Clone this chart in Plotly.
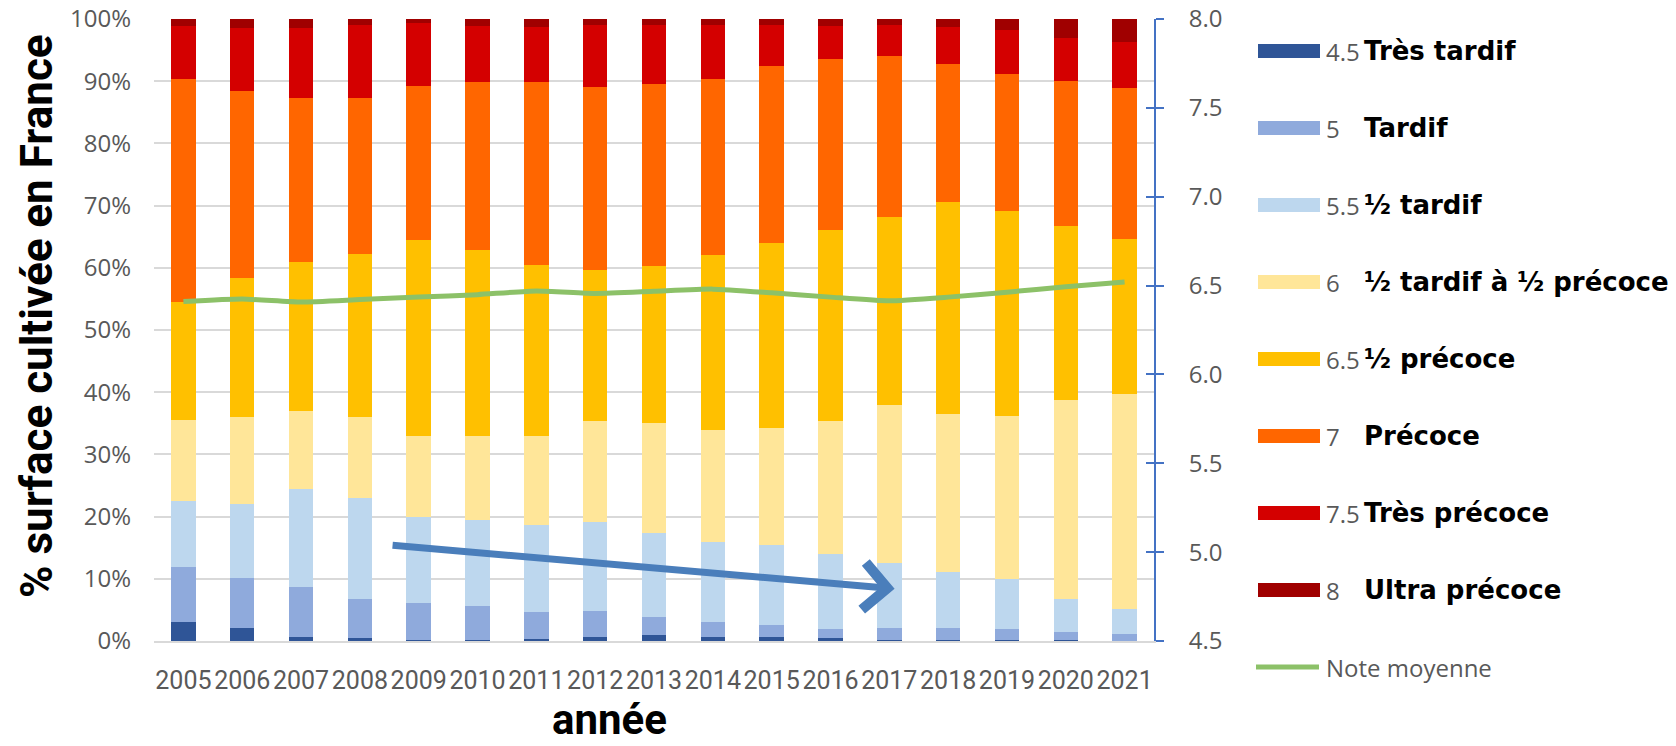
import plotly.graph_objects as go

# Years and share of cultivated area (%) per earliness class
years = list(range(2005, 2022))

tres_tardif = [3.0, 2.1, 0.6, 0.5, 0.1, 0.2, 0.3, 0.7, 0.9, 0.6, 0.6, 0.5, 0.2, 0.1, 0.1, 0.1, 0.05]
tardif = [8.9, 8.0, 8.1, 6.2, 6.0, 5.5, 4.4, 4.2, 2.9, 2.4, 1.9, 1.4, 1.9, 2.0, 1.9, 1.3, 1.15]
demi_tardif = [10.6, 11.9, 15.7, 16.3, 13.8, 13.7, 14.0, 14.2, 13.6, 12.9, 13.0, 12.1, 10.4, 9.0, 7.9, 5.3, 4.0]
demi_tardif_demi_precoce = [13.1, 14.0, 12.6, 13.0, 13.1, 13.6, 14.3, 16.3, 17.7, 18.1, 18.7, 21.4, 25.5, 25.4, 26.3, 32.0, 34.5]
demi_precoce = [18.9, 22.3, 24.0, 26.2, 31.5, 29.8, 27.4, 24.2, 25.2, 28.0, 29.8, 30.6, 30.1, 34.0, 33.0, 28.1, 24.9]
precoce = [35.8, 30.2, 26.3, 25.1, 24.8, 27.0, 29.5, 29.5, 29.3, 28.3, 28.5, 27.6, 25.9, 22.2, 22.0, 23.2, 24.3]
tres_precoce = [8.5, 10.0, 11.3, 11.8, 10.0, 9.1, 8.8, 9.9, 9.4, 8.7, 6.6, 5.3, 5.1, 6.0, 7.1, 7.0, 7.4]
ultra_precoce = [1.2, 1.5, 1.4, 0.9, 0.7, 1.1, 1.3, 1.0, 1.0, 1.0, 0.9, 1.1, 0.9, 1.3, 1.7, 3.0, 3.7]

# Weighted mean earliness score (right axis)
note_moyenne = [6.41, 6.424, 6.407, 6.421, 6.435, 6.449, 6.47, 6.456, 6.468, 6.48,
                6.459, 6.435, 6.414, 6.435, 6.463, 6.493, 6.52]

class_notes = ["4.5", "5", "5.5", "6", "6.5", "7", "7.5", "8"]
class_names = ["Très tardif", "Tardif", "½ tardif", "½ tardif à ½ précoce",
               "½ précoce", "Précoce", "Très précoce", "Ultra précoce"]
class_colors = ["#2F5597", "#8FAADC", "#BDD7EE", "#FFE699",
                "#FFC000", "#FF6600", "#D40000", "#A00000"]
series = [tres_tardif, tardif, demi_tardif, demi_tardif_demi_precoce,
          demi_precoce, precoce, tres_precoce, ultra_precoce]

line_color = "#8CC168"
arrow_color = "#4A7EBB"
axis_blue = "#4472C4"
grey_text = "#595959"
grid_grey = "#D9D9D9"

fig = go.Figure()

for name, vals, col in zip(class_names, series, class_colors):
    fig.add_trace(go.Bar(
        x=years, y=vals, name=name, width=0.416,
        marker=dict(color=col, line=dict(width=0)),
        showlegend=False,
    ))

fig.add_trace(go.Scatter(
    x=years, y=note_moyenne, yaxis="y2", mode="lines", name="Note moyenne",
    line=dict(color=line_color, width=5, shape="spline", smoothing=0.5),
    showlegend=False,
))

# helper axis giving ticks that cross the right axis line
fig.add_trace(go.Scatter(x=[None], y=[None], yaxis="y3", showlegend=False,
                         hoverinfo="skip"))

L, R, T, B = 154, 1154, 19, 641
W, H = 1676, 746


def px_x(px):
    return (px - L) / (R - L)


def px_y(py):
    return (B - py) / (B - T)


annotations = []
shapes = []

# Legend drawn beside the plot
row_y = [51, 128, 205, 282, 359, 436, 513, 590]
for note, name, col, py in zip(class_notes, class_names, class_colors, row_y):
    shapes.append(dict(type="rect", xref="paper", yref="paper",
                       x0=px_x(1258), x1=px_x(1320),
                       y0=px_y(py + 7), y1=px_y(py - 7),
                       fillcolor=col, line=dict(width=0)))
    annotations.append(dict(xref="paper", yref="paper", x=px_x(1324), y=px_y(py),
                            xanchor="left", yanchor="middle", showarrow=False,
                            text=note,
                            font=dict(family="Open Sans", size=24, color=grey_text)))
    annotations.append(dict(xref="paper", yref="paper", x=px_x(1362), y=px_y(py),
                            xanchor="left", yanchor="middle", showarrow=False,
                            text="<b>" + name + "</b>",
                            font=dict(family="DejaVu Sans", size=26, color="black")))

shapes.append(dict(type="line", xref="paper", yref="paper",
                   x0=px_x(1256), x1=px_x(1319), y0=px_y(667), y1=px_y(667),
                   line=dict(color=line_color, width=5)))
annotations.append(dict(xref="paper", yref="paper", x=px_x(1324), y=px_y(667),
                        xanchor="left", yanchor="middle", showarrow=False,
                        text="Note moyenne",
                        font=dict(family="Open Sans", size=24, color=grey_text)))

# Axis titles
annotations.append(dict(xref="paper", yref="paper", x=px_x(37), y=px_y(316),
                        xanchor="center", yanchor="middle", showarrow=False,
                        textangle=-90, text="<b>% surface cultivée en France</b>",
                        font=dict(family="Roboto", size=44, color="black")))
annotations.append(dict(xref="paper", yref="paper", x=px_x(609), y=px_y(719),
                        xanchor="center", yanchor="middle", showarrow=False,
                        text="<b>année</b>",
                        font=dict(family="Roboto", size=42, color="black")))

# Trend arrow
annotations.append(dict(xref="x", yref="y", axref="x", ayref="y",
                        x=2017.09, y=8.4, ax=2008.53, ay=15.4,
                        showarrow=True, arrowhead=4, arrowsize=1.3, arrowwidth=7,
                        arrowcolor=arrow_color, text="", standoff=0))

fig.update_layout(
    width=W, height=H,
    margin=dict(l=L, r=W - R, t=T, b=H - B, autoexpand=False),
    barmode="stack",
    plot_bgcolor="white", paper_bgcolor="white",
    showlegend=False,
    xaxis=dict(
        range=[2004.5, 2021.5], tickmode="array", tickvals=years,
        ticktext=[str(y) for y in years], showgrid=False, zeroline=False,
        showline=True, linecolor=grid_grey, linewidth=2, ticks="",
        tickangle=0,
        tickfont=dict(family="Roboto", size=25, color=grey_text),
        ticklabelstandoff=16, automargin=False,
    ),
    yaxis=dict(
        range=[0, 100], dtick=10, ticksuffix="%", showgrid=True,
        gridcolor=grid_grey, gridwidth=2, zeroline=False, showline=False,
        tickfont=dict(family="Open Sans", size=24, color=grey_text),
        ticklabelstandoff=22, automargin=False,
    ),
    yaxis2=dict(
        overlaying="y", side="right", range=[4.5, 8.0], dtick=0.5,
        tickformat=".1f", showgrid=False, zeroline=False,
        showline=True, linecolor=axis_blue, linewidth=2,
        ticks="outside", ticklen=8, tickwidth=2, tickcolor=axis_blue,
        tickfont=dict(family="Open Sans", size=24, color=grey_text),
        ticklabelstandoff=20, automargin=False,
    ),
    yaxis3=dict(
        overlaying="y", side="right", range=[4.5, 8.0], dtick=0.5,
        showgrid=False, zeroline=False, showline=False, showticklabels=False,
        ticks="inside", ticklen=8, tickwidth=2, tickcolor=axis_blue,
        automargin=False,
    ),
    shapes=shapes,
    annotations=annotations,
)

fig.write_html("out.html")
